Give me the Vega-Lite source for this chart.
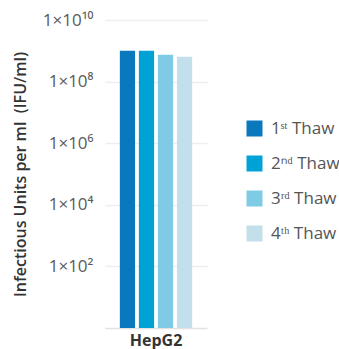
{
  "$schema": "https://vega.github.io/schema/vega-lite/v6.json",
  "autosize": {"type": "none"},
  "padding": {"left": 105, "top": 20, "right": 132, "bottom": 21},
  "width": 102,
  "height": 308,
  "config": {
    "font": "Open Sans",
    "view": {"stroke": null}
  },
  "data": {
    "values": [
      {"cell": "HepG2", "thaw": "1ˢᵗ Thaw", "ifu": 1.0e9},
      {"cell": "HepG2", "thaw": "2ⁿᵈ Thaw", "ifu": 1.0e9},
      {"cell": "HepG2", "thaw": "3ʳᵈ Thaw", "ifu": 7.4e8},
      {"cell": "HepG2", "thaw": "4ᵗʰ Thaw", "ifu": 6.4e8}
    ]
  },
  "mark": {"type": "bar"},
  "encoding": {
    "x": {
      "field": "cell",
      "type": "nominal",
      "scale": {"paddingInner": 0, "paddingOuter": 0.17},
      "axis": {
        "title": null,
        "labelAngle": 0,
        "labelFontSize": 16,
        "labelFontWeight": "bold",
        "labelColor": "#333333",
        "labelPadding": 4,
        "ticks": false,
        "domainColor": "#e2e2e2",
        "domainWidth": 1.5
      }
    },
    "xOffset": {
      "field": "thaw",
      "type": "nominal",
      "sort": ["1ˢᵗ Thaw", "2ⁿᵈ Thaw", "3ʳᵈ Thaw", "4ᵗʰ Thaw"],
      "scale": {"paddingInner": 0.2, "paddingOuter": 0.1}
    },
    "y": {
      "field": "ifu",
      "type": "quantitative",
      "stack": null,
      "scale": {"type": "log", "domain": [1, 1e10], "nice": false},
      "axis": {
        "title": "Infectious Units per ml\u00a0\u00a0(IFU/ml)",
        "titleFontSize": 16,
        "titleFontWeight": 600,
        "titleColor": "#333333",
        "titlePadding": 14,
        "values": [100, 10000, 1000000, 100000000, 10000000000],
        "labelExpr": "datum.value > 5e9 ? '1×10¹⁰' : datum.value > 5e7 ? '1×10⁸' : datum.value > 5e5 ? '1×10⁶' : datum.value > 5e3 ? '1×10⁴' : '1×10²'",
        "labelFontSize": 17,
        "labelColor": "#5a5a5a",
        "labelPadding": 12,
        "ticks": false,
        "domain": false,
        "grid": true,
        "gridColor": "#eeeeee",
        "gridWidth": 1.5
      }
    },
    "color": {
      "field": "thaw",
      "type": "nominal",
      "sort": ["1ˢᵗ Thaw", "2ⁿᵈ Thaw", "3ʳᵈ Thaw", "4ᵗʰ Thaw"],
      "scale": {"range": ["#0a78bd", "#00a2d6", "#7fcbe5", "#c3dfeb"]},
      "legend": {
        "title": null,
        "orient": "none",
        "legendX": 141,
        "legendY": 100,
        "symbolType": "square",
        "symbolSize": 256,
        "symbolStrokeWidth": 0,
        "labelFontSize": 17,
        "labelColor": "#555555",
        "labelOffset": 8,
        "rowPadding": 17
      }
    }
  }
}
